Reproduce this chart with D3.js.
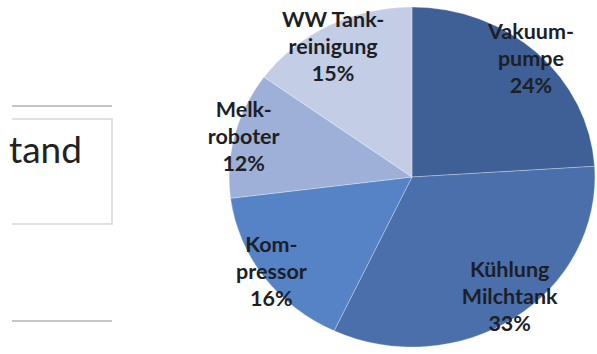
<!DOCTYPE html>
<html>
<head>
<meta charset="utf-8">
<script src="https://cdn.jsdelivr.net/npm/d3@7"></script>
<style>
  body { margin: 0; background: #fff; }
  svg { display: block; }
</style>
</head>
<body>
<svg id="chart"></svg>
<script>
// slice data (share of energy use, %)
var categories = ["Vakuum-\npumpe", "Kühlung\nMilchtank", "Kom-\npressor", "Melk-\nroboter", "WW Tank-\nreinigung"];
var values = [24, 33, 16, 12, 15];
var colors = ["#3f5f97", "#4a6fab", "#5683c5", "#9eb0d8", "#c3cde5"];

var width = 597, height = 354;
var cx = 412, cy = 177, radius = 170, stretch = 1.076;

var svg = d3.select("#chart")
    .attr("width", width)
    .attr("height", height);

// left side: cut off text box from the slide
var left = svg.append("g");
left.append("line")
    .attr("x1", 12).attr("x2", 112)
    .attr("y1", 106).attr("y2", 106)
    .attr("stroke", "#c6c6c6").attr("stroke-width", 2);
left.append("path")
    .attr("d", "M12,119 H112 V224 H12")
    .attr("fill", "none")
    .attr("stroke", "#d8d8d8").attr("stroke-width", 1.5);
left.append("text")
    .attr("x", 82).attr("y", 163)
    .attr("text-anchor", "end")
    .style("font-family", "Lato, 'Open Sans', sans-serif")
    .style("font-size", "37px")
    .attr("fill", "#222")
    .text("tand");
left.append("line")
    .attr("x1", 12).attr("x2", 112)
    .attr("y1", 321).attr("y2", 321)
    .attr("stroke", "#c6c6c6").attr("stroke-width", 2);

// pie
var pie = d3.pie().sort(null).value(function(d) { return d; });
var arc = d3.arc().innerRadius(0).outerRadius(radius);
var labelArc = d3.arc().innerRadius(radius * 0.95).outerRadius(radius * 0.95);

var g = svg.append("g")
    .attr("transform", "translate(" + cx + "," + cy + ") scale(" + stretch + ",1)");

var arcs = pie(values);

g.selectAll("path.slice")
    .data(arcs)
    .enter().append("path")
    .attr("class", "slice")
    .attr("d", arc)
    .attr("fill", function(d, i) { return colors[i]; })
    .attr("stroke", "rgba(255,255,255,0.35)")
    .attr("stroke-width", 0.8);

var total = d3.sum(values);
var lineH = 27;
// keep label blocks inside the chart area (first/last line centre)
var minTop = 20 - cy, maxBottom = 324 - cy;

g.selectAll("text.lbl")
    .data(arcs)
    .enter().append("text")
    .attr("class", "lbl")
    .attr("text-anchor", "middle")
    .style("font-family", "Lato, 'Open Sans', sans-serif")
    .style("font-size", "20px")
    .style("font-weight", "bold")
    .attr("fill", "#1c1f26")
    .each(function(d, i) {
        var c = labelArc.centroid(d);
        var lines = categories[i].split("\n").concat([Math.round(values[i] / total * 100) + "%"]);
        var half = (lines.length - 1) / 2 * lineH;
        var my = Math.min(Math.max(c[1], minTop + half), maxBottom - half);
        var t = d3.select(this);
        lines.forEach(function(s, k) {
            t.append("tspan")
                .attr("x", c[0])
                .attr("y", my + (k - (lines.length - 1) / 2) * lineH + 7)
                .text(s);
        });
    });
</script>
</body>
</html>
